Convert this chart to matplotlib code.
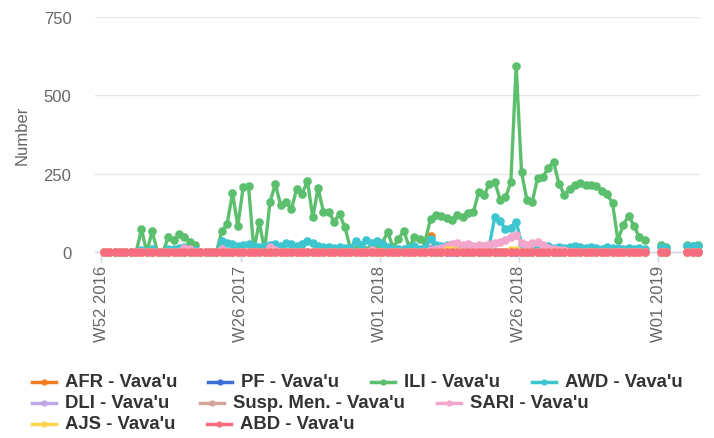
import numpy as np
import matplotlib
matplotlib.use("Agg")
import matplotlib.pyplot as plt
from matplotlib.lines import Line2D

plt.rcParams['font.family'] = ['Liberation Sans', 'DejaVu Sans']

N = None
# weekly categories, W52 2016 ... (ticks every 26 weeks)
tick_labels = ["W52 2016", "W26 2017", "W01 2018", "W26 2018", "W01 2019"]
tick_idx = [0, 26, 52, 78, 104]

ili = [0, 0, 0, 0, 0, 0, 0, 72, 0, 66,
       0, 0, 47, 38, 56, 47, 33, 22, 0, 0,
       0, 0, 66, 89, 188, 84, 206, 210, 5, 96,
       5, 158, 217, 150, 160, 137, 201, 185, 227, 111,
       204, 128, 127, 97, 121, 79, 13, 10, 15, 5,
       20, 25, 30, 63, 15, 41, 68, 16, 48, 40,
       36, 105, 118, 116, 107, 103, 119, 111, 125, 127,
       192, 182, 217, 225, 167, 174, 222, 595, 254, 167,
       160, 236, 240, 268, 287, 217, 183, 201, 215, 219,
       214, 214, 210, 196, 185, 155, 38, 86, 116, 84,
       47, 38, N, N, 22, 15, N, N, N, 22,
       20, 22]
awd = [0, 0, 0, 0, 0, 0, 0, 5, 3, 8,
       0, 0, 8, 10, 12, 15, 8, 5, 0, 0,
       0, 0, 34, 28, 24, 20, 22, 25, 18, 15,
       20, 22, 24, 20, 28, 26, 20, 24, 35, 30,
       20, 15, 15, 14, 15, 12, 12, 36, 22, 38,
       28, 36, 25, 15, 10, 8, 10, 12, 18, 10,
       14, 42, 22, 18, 22, 15, 18, 15, 12, 10,
       15, 20, 22, 111, 98, 73, 78, 97, 25, 20,
       22, 18, 15, 18, 14, 15, 12, 15, 18, 15,
       12, 15, 12, 10, 15, 12, 12, 10, 12, 10,
       12, 10, N, N, 15, 14, N, N, N, 18,
       20, 20]
sari = [0, 0, 0, 0, 0, 0, 0, 0, 0, 0,
        0, 0, 0, 0, 0, 12, 8, 0, 0, 0,
        0, 0, 8, 0, 0, 0, 0, 0, 0, 0,
        0, 15, 5, 0, 0, 0, 0, 0, 0, 0,
        0, 0, 0, 0, 0, 0, 0, 0, 0, 0,
        5, 0, 0, 0, 0, 0, 0, 0, 0, 0,
        0, 5, 8, 12, 18, 25, 28, 22, 25, 20,
        22, 18, 25, 28, 32, 38, 47, 53, 30, 22,
        28, 32, 22, 12, 8, 5, 5, 0, 0, 0,
        0, 0, 0, 0, 0, 0, 0, 0, 0, 0,
        0, 0, N, N, 0, 0, N, N, N, 0,
        0, 0]

def zeros_with(vals):
    s = [0] * 112
    for k in (102, 103, 106, 107, 108):
        s[k] = N
    for k, v in vals.items():
        s[k] = v
    return s

afr = zeros_with({61: 52})
pf = zeros_with({61: 8})
dli = zeros_with({61: 5})
susp = zeros_with({})
ajs = zeros_with({64: 5, 65: 5, 66: 3, 76: 5, 77: 5})
abd = zeros_with({})

names = ["AFR - Vava'u", "PF - Vava'u", "ILI - Vava'u", "AWD - Vava'u",
         "DLI - Vava'u", "Susp. Men. - Vava'u", "SARI - Vava'u",
         "AJS - Vava'u", "ABD - Vava'u"]
series = [afr, pf, ili, awd, dli, susp, sari, ajs, abd]
colors = ["#f47c20", "#3a6fd8", "#5cbf6e", "#3ec6d0", "#bfa6e6",
          "#d4a49c", "#f2a6cc", "#fcd34d", "#f86c80"]

fig = plt.figure(figsize=(7.14, 4.39), dpi=100)
W, H = 714, 439
ax = fig.add_axes([95 / W, (H - 253) / H, (700 - 95) / W, (253 - 18) / H])

x = np.arange(112)
for k, (s, c) in enumerate(zip(series, colors)):
    y = np.array([np.nan if v is None else v for v in s], dtype=float)
    ax.plot(x, y, color=c, lw=2.4, marker='o', ms=6.2, mec=c, mew=0,
            clip_on=False, zorder=3 + k, solid_joinstyle='round')

ax.set_xlim((95 - 104) / 5.353, (700 - 104) / 5.353)
ax.set_ylim(0, 750)
ax.set_yticks([0, 250, 500, 750])
ax.set_yticklabels(["0", "250", "500", "750"])
ax.set_xticks([t - 0.5 for t in tick_idx])
ax.set_xticklabels(tick_labels, rotation=90, va='top', ha='center')
ax.tick_params(axis='x', length=7, width=1, color="#ccd6eb", pad=2,
               labelsize=12, labelcolor="#666666")
ax.tick_params(axis='y', length=0, pad=17, labelsize=12, labelcolor="#666666")
ax.grid(axis='y', color="#e6e6e6", lw=1)
ax.set_axisbelow(True)
for sp in ["top", "right", "left"]:
    ax.spines[sp].set_visible(False)
ax.spines["bottom"].set_color("#ccd6eb")
ax.spines["bottom"].set_linewidth(1)

fig.text(22 / W, 1 - 135 / H, "Number", rotation=90, ha='center', va='center',
         fontsize=12, color="#666666")

# legend laid out like the original (three rows, flowing items)
leg_pos = [(32, 383), (208, 383), (371, 383), (532, 383),
           (32, 404), (200, 404), (437, 404),
           (32, 425), (207, 425)]
for (px, py), name, c in zip(leg_pos, names, colors):
    fy = 1 - py / H
    fig.add_artist(Line2D([px / W, (px + 24) / W], [fy, fy], color=c, lw=2.5,
                          transform=fig.transFigure))
    fig.add_artist(Line2D([(px + 12) / W], [fy], color=c, marker='o', ms=4.5,
                          mew=0, transform=fig.transFigure))
    fig.text((px + 33) / W, fy, name, ha='left', va='center', fontsize=13.3,
             fontweight='bold', color="#333333")

fig.savefig("out.png", dpi=100)
